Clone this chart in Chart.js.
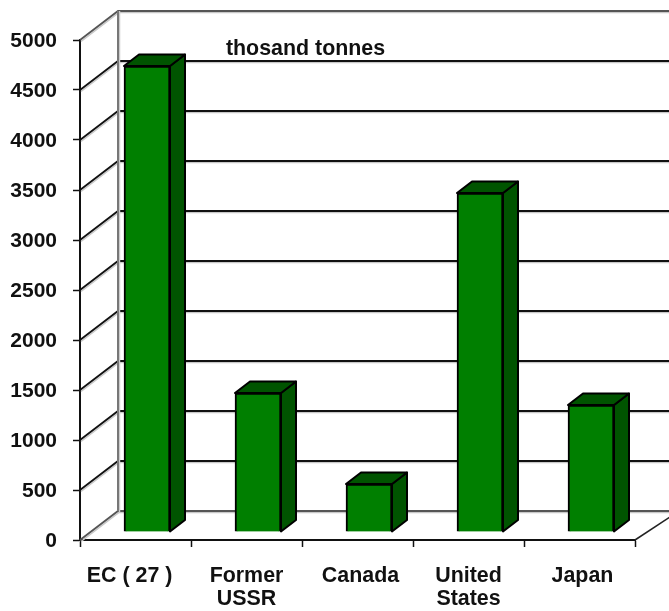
<!DOCTYPE html>
<html>
<head>
<meta charset="utf-8">
<style>
	html, body { margin: 0; padding: 0; background: #fff; }
	canvas { display: block; }
</style>
<script src="https://cdn.jsdelivr.net/npm/chart.js@4"></script>
</head>
<body>
<canvas id="chartCanvas" width="669" height="611"></canvas>
<script>
const categories = ['EC ( 27 )', ['Former', 'USSR'], 'Canada', ['United', 'States'], 'Japan']
const production = [4660, 1390, 480, 3390, 1270]
const unitLabel = 'thosand tonnes'

const FONT_FAMILY = '"Liberation Sans", Arial, sans-serif'
const WALL = { dx: 38, dy: -29 }
const BAR_SHIFT = { dx: 11.5, dy: -8 }
const BAR_DEPTH = { dx: 15, dy: -11.5 }

function polyline(ctx, pts, color, width) {
	ctx.beginPath()
	pts.forEach(([x, y], i) => i ? ctx.lineTo(x, y) : ctx.moveTo(x, y))
	ctx.strokeStyle = color
	ctx.lineWidth = width
	ctx.stroke()
}

// the original labels sit a little off centre, spaces nudge them
function nudgeLabel(label, i) {
	if (i === 0) return label + '  '
	if (i === 2 || i === 4) return ' ' + label
	return label
}

// back wall, side wall and floor, from the y scale ticks
const wallPlugin = {
	id: 'wall',
	beforeDatasetsDraw(chart) {
		const { ctx, scales: { y }, chartArea: area } = chart
		const backX = area.left + WALL.dx
		ctx.save()
		y.ticks.forEach(t => {
			const py = y.getPixelForValue(t.value)
			const edge = t.value === y.min || t.value === y.max
			const pts = [[area.left, py], [backX, py + WALL.dy], [chart.width, py + WALL.dy]]
			polyline(ctx, pts.map(([a, b]) => [a + 1, b + 1.5]), '#c8c8c8', 1.5)
			polyline(ctx, pts, edge ? '#555' : '#111', 1.8)
		})
		const top = y.getPixelForValue(y.max) + WALL.dy
		const floor = y.getPixelForValue(y.min) + WALL.dy
		polyline(ctx, [[backX + 1.5, top], [backX + 1.5, floor + 1]], '#ccc', 1.5)
		polyline(ctx, [[backX, top], [backX, floor]], '#777', 2)
		polyline(ctx, [[area.right, area.bottom], [area.right + WALL.dx, floor + 4]], '#222', 1.5)
		ctx.restore()
	}
}

// side and top faces of the bars, then shift the front faces onto the floor
const bar3dPlugin = {
	id: 'bar3d',
	beforeDatasetsDraw(chart) {
		const { ctx } = chart
		ctx.save()
		ctx.translate(BAR_SHIFT.dx, BAR_SHIFT.dy)
		chart.getDatasetMeta(0).data.forEach(bar => {
			const left = bar.x - bar.width / 2
			const right = bar.x + bar.width / 2
			const { dx, dy } = BAR_DEPTH
			const side = [[right, bar.y], [right + dx, bar.y + dy], [right + dx, bar.base + dy], [right, bar.base]]
			const lid = [[left, bar.y], [left + dx, bar.y + dy], [right + dx, bar.y + dy], [right, bar.y]]
			;[side, lid].forEach(face => {
				ctx.beginPath()
				face.forEach(([x, y], i) => i ? ctx.lineTo(x, y) : ctx.moveTo(x, y))
				ctx.closePath()
				ctx.fillStyle = '#005400'
				ctx.fill()
				ctx.strokeStyle = '#000'
				ctx.lineWidth = 2
				ctx.lineJoin = 'round'
				ctx.stroke()
			})
		})
	},
	afterDatasetsDraw(chart) {
		chart.ctx.restore()
	}
}

const unitPlugin = {
	id: 'unit',
	afterDraw(chart) {
		const { ctx } = chart
		ctx.save()
		ctx.font = `bold 21.4px ${FONT_FAMILY}`
		ctx.fillStyle = '#111'
		ctx.textAlign = 'center'
		ctx.textBaseline = 'middle'
		ctx.fillText(unitLabel, 305.5, 49)
		ctx.restore()
	}
}

new Chart(document.getElementById('chartCanvas').getContext('2d'), {
	type: 'bar',
	data: {
		labels: categories,
		datasets: [{
			data: production,
			backgroundColor: '#007f00',
			borderColor: '#000',
			borderWidth: 2,
			barThickness: 46,
			clip: false
		}]
	},
	options: {
		responsive: false,
		animation: false,
		layout: { padding: { top: 40, right: 34 } },
		plugins: {
			legend: { display: false },
			title: { display: false },
			tooltip: { enabled: false }
		},
		scales: {
			x: {
				afterFit: s => { s.height = 71 },
				grid: { drawOnChartArea: false, tickLength: 7, tickColor: '#111', tickWidth: 1.5 },
				border: { color: '#111', width: 2 },
				ticks: {
					color: '#111',
					font: { family: FONT_FAMILY, size: 21.4, weight: 'bold', lineHeight: 1.06 },
					padding: 18,
					maxRotation: 0,
					autoSkip: false,
					callback(value, i) { return nudgeLabel(this.getLabelForValue(value), i) }
				}
			},
			y: {
				min: 0,
				max: 5000,
				afterFit: s => { s.width = 80 },
				grid: { drawOnChartArea: false, tickLength: 7, tickColor: '#111', tickWidth: 1.5 },
				border: { color: '#111', width: 2 },
				ticks: {
					stepSize: 500,
					color: '#111',
					font: { family: FONT_FAMILY, size: 21, weight: 'bold' },
					padding: 16,
					labelOffset: 1.5,
					callback: value => String(value)
				}
			}
		}
	},
	plugins: [wallPlugin, bar3dPlugin, unitPlugin]
})
</script>
</body>
</html>
